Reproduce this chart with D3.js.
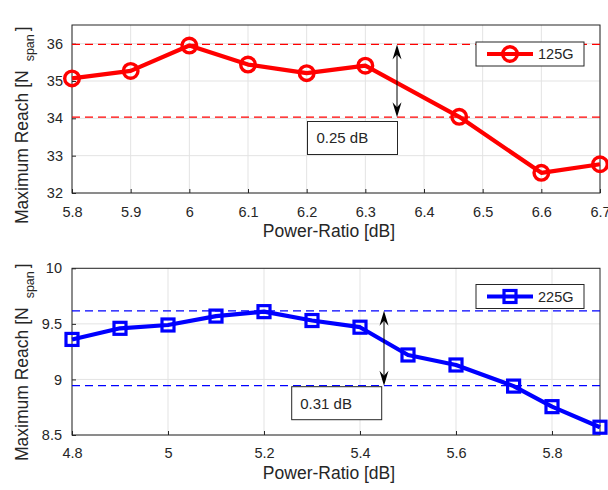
<!DOCTYPE html>
<html><head><meta charset="utf-8">
<script src="https://cdn.jsdelivr.net/npm/d3@7"></script>
<style>body{margin:0;background:#fff}svg{display:block}text{font-family:"Liberation Sans",Arial,sans-serif;fill:#262626}</style>
</head><body>
<script>
// Top panel (125G)
const x125 = [5.8, 5.9, 6.0, 6.1, 6.2, 6.3, 6.46, 6.6, 6.7];
const y125 = [35.07, 35.27, 35.95, 35.44, 35.21, 35.41, 34.04, 32.54, 32.77];
const ref125 = [35.98, 34.03];
const xTicks125 = [5.8, 5.9, 6.0, 6.1, 6.2, 6.3, 6.4, 6.5, 6.6, 6.7];
const yTicks125 = [32, 33, 34, 35, 36];
// Bottom panel (225G)
const x225 = [4.8, 4.9, 5.0, 5.1, 5.2, 5.3, 5.4, 5.5, 5.6, 5.72, 5.8, 5.9];
const y225 = [9.36, 9.46, 9.49, 9.57, 9.61, 9.53, 9.47, 9.22, 9.13, 8.94, 8.755, 8.57];
const ref225 = [9.617, 8.944];
const xTicks225 = [4.8, 5.0, 5.2, 5.4, 5.6, 5.8];
const yTicks225 = [8.5, 9, 9.5, 10];

const W = 608, H = 490;
const svg = d3.select("body").append("svg").attr("width", W).attr("height", H);

function panel(o) {
  const g = svg.append("g");
  const x = d3.scaleLinear().domain(o.xd).range([72, 600]);
  const y = d3.scaleLinear().domain(o.yd).range([o.bottom, o.top]);
  // grid
  g.selectAll(".gx").data(o.xt).join("line")
    .attr("x1", d => x(d)).attr("x2", d => x(d)).attr("y1", o.top).attr("y2", o.bottom)
    .attr("stroke", "#e3e3e3").attr("stroke-width", 1);
  g.selectAll(".gy").data(o.yt).join("line")
    .attr("x1", 72).attr("x2", 600).attr("y1", d => y(d)).attr("y2", d => y(d))
    .attr("stroke", "#e3e3e3").attr("stroke-width", 1);
  // axes
  const fmt = d => String(+d.toFixed(2));
  const ax = g.append("g").attr("transform", `translate(0,${o.bottom})`)
    .call(d3.axisBottom(x).tickValues(o.xt).tickFormat(fmt).tickSizeInner(-4).tickSizeOuter(0).tickPadding(o.xpad));
  const ay = g.append("g").attr("transform", `translate(72,0)`)
    .call(d3.axisLeft(y).tickValues(o.yt).tickFormat(fmt).tickSizeInner(-4).tickSizeOuter(0).tickPadding(o.ypad));
  [ax, ay].forEach(a => {
    a.select(".domain").remove();
    a.selectAll("line").attr("stroke", "#262626");
    a.selectAll("text").attr("font-size", 14.5).attr("fill", "#262626")
      .style("font-family", '"Liberation Sans",Arial,sans-serif');
  });
  g.append("rect").attr("x", 72).attr("y", o.top).attr("width", 528).attr("height", o.bottom - o.top)
    .attr("fill", "none").attr("stroke", "#262626").attr("stroke-width", 1);
  // reference dashed lines
  g.selectAll(".ref").data(o.ref).join("line")
    .attr("x1", 72).attr("x2", 600).attr("y1", d => y(d)).attr("y2", d => y(d))
    .attr("stroke", o.color).attr("stroke-width", 1.3).attr("stroke-dasharray", "8,5");
  // line
  const pts = o.xs.map((v, i) => [v, o.ys[i]]);
  g.append("path").datum(pts)
    .attr("d", d3.line().x(d => x(d[0])).y(d => y(d[1])))
    .attr("fill", "none").attr("stroke", o.color).attr("stroke-width", 4.2).attr("stroke-linejoin", "round");
  // markers
  drawMarkers(g, pts.map(d => [x(d[0]), y(d[1])]), o);
  // arrow
  const ax0 = x(o.arrowX), ya = y(o.ref[0]), yb = y(o.ref[1]);
  g.append("line").attr("x1", ax0).attr("x2", ax0).attr("y1", ya + 4).attr("y2", yb - 4)
    .attr("stroke", "#000").attr("stroke-width", 1);
  const head = (tipY, dir) => `M${ax0},${tipY} L${ax0 - 4.5},${tipY + dir * 15} L${ax0},${tipY + dir * 10} L${ax0 + 4.5},${tipY + dir * 15} Z`;
  g.append("path").attr("d", head(ya, 1)).attr("fill", "#000");
  g.append("path").attr("d", head(yb, -1)).attr("fill", "#000");
  // annotation box
  g.append("rect").attr("x", o.box[0]).attr("y", o.box[1]).attr("width", o.box[2]).attr("height", o.box[3])
    .attr("fill", "#fff").attr("stroke", "#262626").attr("stroke-width", 1);
  g.append("text").attr("x", o.box[0] + o.boxText[0]).attr("y", o.box[1] + o.boxText[1])
    .attr("font-size", 15).attr("fill", "#000").text(o.label);
  // legend
  const L = o.legend;
  g.append("rect").attr("x", 476).attr("y", L).attr("width", 108).attr("height", 24)
    .attr("fill", "#fff").attr("stroke", "#262626").attr("stroke-width", 1);
  g.append("line").attr("x1", 487).attr("x2", 533).attr("y1", L + 12).attr("y2", L + 12)
    .attr("stroke", o.color).attr("stroke-width", 4.2);
  drawMarkers(g, [[510, L + 12]], o);
  g.append("text").attr("x", 538).attr("y", L + 17).attr("font-size", 14.5).attr("fill", "#000").text(o.name);
  // axis labels
  g.append("text").attr("x", 329).attr("y", o.bottom + 44).attr("text-anchor", "middle")
    .attr("font-size", 17.5).text("Power-Ratio [dB]");
  const yl = g.append("text").attr("transform", `translate(27.5,${o.ylStart}) rotate(-90)`)
    .attr("text-anchor", "start").attr("font-size", 17.5);
  yl.append("tspan").text("Maximum Reach [N");
  yl.append("tspan").attr("font-size", 12.5).attr("dy", 6).attr("dx", 9).text("span");
  yl.append("tspan").attr("dy", -6).attr("dx", 3).text("]");
}

function drawMarkers(g, pts, o) {
  if (o.marker === "circle") {
    g.selectAll(null).data(pts).join("circle")
      .attr("cx", d => d[0]).attr("cy", d => d[1]).attr("r", 7.3)
      .attr("fill", "none").attr("stroke", o.color).attr("stroke-width", 3.4);
  } else {
    g.selectAll(null).data(pts).join("rect")
      .attr("x", d => d[0] - 6).attr("y", d => d[1] - 6).attr("width", 12).attr("height", 12)
      .attr("fill", "none").attr("stroke", o.color).attr("stroke-width", 3.2);
  }
}

panel({xd: [5.8, 6.7], yd: [32, 36.5], top: 25, bottom: 193, xt: xTicks125, yt: yTicks125,
  xs: x125, ys: y125, ref: ref125, color: "#ff0000", marker: "circle", arrowX: 6.354,
  box: [307.5, 121.5, 90, 33], boxText: [9, 21], label: "0.25 dB", legend: 42, name: "125G",
  xpad: 14, ypad: 9, ylStart: 224});
panel({xd: [4.8, 5.9], yd: [8.5, 10], top: 268.3, bottom: 435, xt: xTicks225, yt: yTicks225,
  xs: x225, ys: y225, ref: ref225, color: "#0000ff", marker: "square", arrowX: 5.45,
  box: [291.7, 386.7, 90, 33], boxText: [8.5, 22], label: "0.31 dB", legend: 284.5, name: "225G",
  xpad: 13, ypad: 10, ylStart: 461});
</script>
</body></html>
